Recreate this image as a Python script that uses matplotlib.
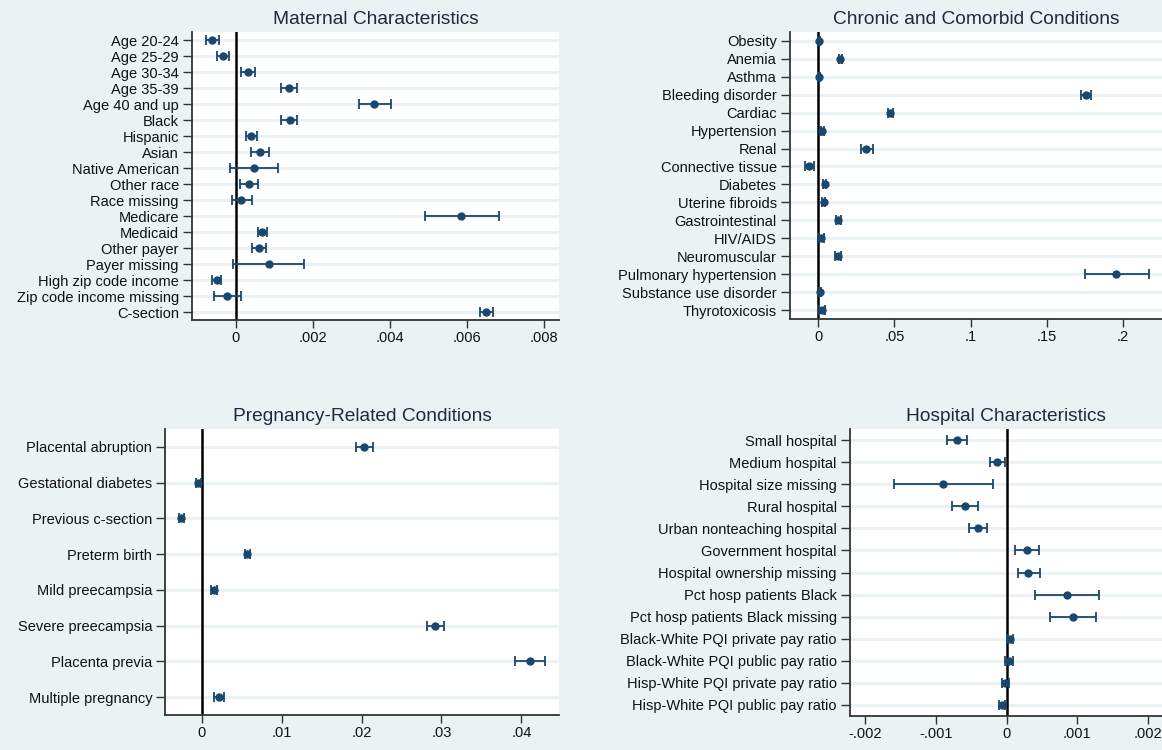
import numpy as np
import matplotlib
matplotlib.use('Agg')
import matplotlib.pyplot as plt

plt.rcParams['font.family'] = ['Liberation Sans', 'DejaVu Sans']

navy = '#1a476f'
bg = '#eaf2f3'

# Maternal characteristics
mat_labels = ['Age 20-24', 'Age 25-29', 'Age 30-34', 'Age 35-39', 'Age 40 and up',
              'Black', 'Hispanic', 'Asian', 'Native American', 'Other race',
              'Race missing', 'Medicare', 'Medicaid', 'Other payer', 'Payer missing',
              'High zip code income', 'Zip code income missing', 'C-section']
mat_est = [-0.000604, -0.000326, 0.000326, 0.00138, 0.00360, 0.00140, 0.000403,
           0.000633, 0.000489, 0.000355, 0.000153, 0.00585, 0.000690, 0.000604,
           0.000854, -0.000489, -0.000221, 0.00649]
mat_lo = [-0.000767, -0.000489, 0.000153, 0.00117, 0.00320, 0.00119, 0.000259,
          0.000393, -0.000134, 0.000125, -0.0000959, 0.00490, 0.000585, 0.000422,
          -0.0000575, -0.000604, -0.000566, 0.00634]
mat_hi = [-0.000432, -0.000163, 0.000508, 0.00158, 0.00402, 0.00159, 0.000547,
          0.000863, 0.00111, 0.000585, 0.000422, 0.00683, 0.000806, 0.000786,
          0.00178, -0.000374, 0.000144, 0.00666]
mat_ticks = [0, 0.002, 0.004, 0.006, 0.008]
mat_ticklabels = ['0', '.002', '.004', '.006', '.008']

# Chronic and comorbid conditions
chr_labels = ['Obesity', 'Anemia', 'Asthma', 'Bleeding disorder', 'Cardiac',
              'Hypertension', 'Renal', 'Connective tissue', 'Diabetes',
              'Uterine fibroids', 'Gastrointestinal', 'HIV/AIDS', 'Neuromuscular',
              'Pulmonary hypertension', 'Substance use disorder', 'Thyrotoxicosis']
chr_est = [0.0005, 0.0144, 0.0007, 0.1757, 0.0472, 0.0027, 0.0316, -0.0061,
           0.0044, 0.0036, 0.0131, 0.0019, 0.0127, 0.1956, 0.0010, 0.0024]
chr_lo = [-0.0002, 0.0134, 0.0000, 0.1725, 0.0455, 0.0015, 0.0280, -0.0090,
          0.0034, 0.0026, 0.0114, 0.0000, 0.0107, 0.1749, 0.0003, 0.0005]
chr_hi = [0.0012, 0.0154, 0.0014, 0.1791, 0.0489, 0.0039, 0.0358, -0.0029,
          0.0054, 0.0046, 0.0148, 0.0039, 0.0151, 0.2168, 0.0017, 0.0046]
chr_ticks = [0, 0.05, 0.1, 0.15, 0.2]
chr_ticklabels = ['0', '.05', '.1', '.15', '.2']

# Pregnancy-related conditions
prg_labels = ['Placental abruption', 'Gestational diabetes', 'Previous c-section',
              'Preterm birth', 'Mild preecampsia', 'Severe preecampsia',
              'Placenta previa', 'Multiple pregnancy']
prg_est = [0.02035, -0.00046, -0.00255, 0.00570, 0.00153, 0.02920, 0.04111, 0.00218]
prg_lo = [0.01928, -0.00074, -0.00283, 0.00538, 0.00121, 0.02813, 0.03926, 0.00153]
prg_hi = [0.02141, -0.00014, -0.00222, 0.00607, 0.00190, 0.03027, 0.04301, 0.00283]
prg_ticks = [0, 0.01, 0.02, 0.03, 0.04]
prg_ticklabels = ['0', '.01', '.02', '.03', '.04']

# Hospital characteristics
hos_labels = ['Small hospital', 'Medium hospital', 'Hospital size missing',
              'Rural hospital', 'Urban nonteaching hospital', 'Government hospital',
              'Hospital ownership missing', 'Pct hosp patients Black',
              'Pct hosp patients Black missing', 'Black-White PQI private pay ratio',
              'Black-White PQI public pay ratio', 'Hisp-White PQI private pay ratio',
              'Hisp-White PQI public pay ratio']
hos_est = [-0.000702, -0.000131, -0.000895, -0.000586, -0.000408, 0.000293,
           0.000309, 0.000859, 0.000937, 0.0000471, 0.0000367, -0.0000157, -0.0000628]
hos_lo = [-0.000838, -0.000230, -0.001592, -0.000775, -0.000529, 0.000126,
          0.000157, 0.000403, 0.000618, 0.0000105, -0.0000209, -0.0000628, -0.000110]
hos_hi = [-0.000560, -0.0000262, -0.000194, -0.000398, -0.000283, 0.000456,
          0.000466, 0.001309, 0.001257, 0.0000890, 0.0000890, 0.0000367, -0.0000157]
hos_ticks = [-0.002, -0.001, 0, 0.001, 0.002]
hos_ticklabels = ['-.002', '-.001', '0', '.001', '.002']


def coefplot(rect, title, labels, est, lo, hi, xlim, ticks, ticklabels):
    ax = fig.add_axes(rect)
    n = len(labels)
    y = np.arange(n)
    est = np.array(est)
    err = [est - np.array(lo), np.array(hi) - est]
    for yy in y:
        ax.axhline(yy, color=bg, lw=2.2, zorder=0)
    ax.axvline(0, color='black', lw=1.8, zorder=1)
    ax.errorbar(est, y, xerr=err, fmt='o', color=navy, ms=5, lw=1.3,
                capsize=3.6, capthick=1.3, zorder=3)
    ax.set_ylim(n - 0.5, -0.5)
    ax.set_xlim(xlim)
    ax.set_yticks(y)
    ax.set_yticklabels(labels, fontsize=10.5, color='#111111')
    ax.set_xticks(ticks)
    ax.set_xticklabels(ticklabels, fontsize=10.5, color='#111111')
    ax.tick_params(axis='y', length=6.5, width=1, color='#333333', pad=3)
    ax.tick_params(axis='x', length=6, width=1, color='#333333', pad=2)
    for s in ['top', 'right']:
        ax.spines[s].set_visible(False)
    for s in ['left', 'bottom']:
        ax.spines[s].set_color('#333333')
        ax.spines[s].set_linewidth(1.3)
    ax.set_facecolor('white')
    ax.set_title(title, fontsize=13.8, color='#1e2a3c', pad=6)
    return ax


fig = plt.figure(figsize=(11.62, 7.5), dpi=100)
fig.patch.set_facecolor(bg)

coefplot([0.1652, 0.5733, 0.3158, 0.384], 'Maternal Characteristics',
         mat_labels, mat_est, mat_lo, mat_hi, (-0.00113, 0.00838), mat_ticks, mat_ticklabels)
coefplot([0.6799, 0.5747, 0.3201, 0.3827], 'Chronic and Comorbid Conditions',
         chr_labels, chr_est, chr_lo, chr_hi, (-0.0185, 0.2255), chr_ticks, chr_ticklabels)
coefplot([0.1424, 0.0467, 0.3386, 0.3813], 'Pregnancy-Related Conditions',
         prg_labels, prg_est, prg_lo, prg_hi, (-0.00454, 0.0447), prg_ticks, prg_ticklabels)
coefplot([0.7315, 0.0453, 0.2685, 0.3827], 'Hospital Characteristics',
         hos_labels, hos_est, hos_lo, hos_hi, (-0.00221, 0.002194), hos_ticks, hos_ticklabels)

fig.savefig('out.png', dpi=100, facecolor=bg)
